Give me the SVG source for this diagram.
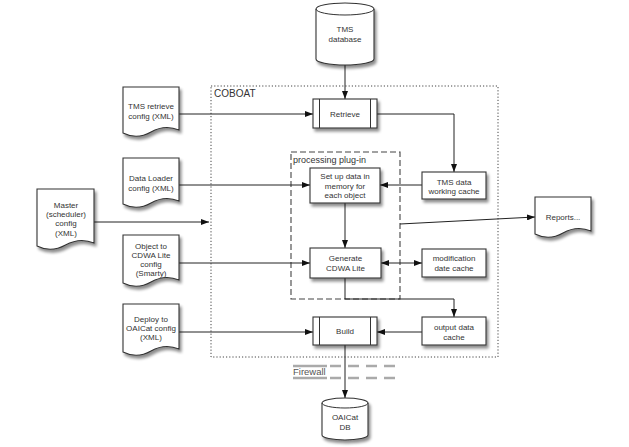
<svg xmlns="http://www.w3.org/2000/svg" width="629" height="447" viewBox="0 0 629 447">
<defs>
<filter id="sh" x="-20%" y="-20%" width="150%" height="150%">
<feGaussianBlur in="SourceAlpha" stdDeviation="1.5"/>
<feOffset dx="1.5" dy="2.5" result="b"/>
<feComponentTransfer><feFuncA type="linear" slope="0.45"/></feComponentTransfer>
<feMerge><feMergeNode/><feMergeNode in="SourceGraphic"/></feMerge>
</filter>
<marker id="ah" viewBox="0 0 8 6" refX="8" refY="3" markerWidth="8" markerHeight="6" markerUnits="userSpaceOnUse" orient="auto-start-reverse">
<path d="M0,0 L8,3 L0,6 z" fill="#111"/>
</marker>
</defs>
<style>
.bx{fill:#fff;stroke:#333;stroke-width:1.1;filter:url(#sh)}
.ln{fill:none;stroke:#333;stroke-width:1}
.t{font-family:"Liberation Sans",Arial,sans-serif;font-size:8px;fill:#333;text-anchor:middle}
.c{fill:none;stroke:#222;stroke-width:1;marker-end:url(#ah)}
.fw{stroke:#aaa;stroke-width:2.5;fill:none}
</style>
<rect width="629" height="447" fill="#fff"/>

<g id="coboat">
<rect x="211" y="86" width="287" height="271" fill="none" stroke="#444" stroke-width="1" stroke-dasharray="1.2 2"/>
<text x="214" y="97" style="font-family:'Liberation Sans',Arial,sans-serif;font-size:10px;fill:#333">COBOAT</text>
</g>
<g id="plugin">
<rect x="291" y="152" width="109" height="147" fill="none" stroke="#444" stroke-width="1.1" stroke-dasharray="6 3"/>
<text x="293" y="163" style="font-family:'Liberation Sans',Arial,sans-serif;font-size:9px;fill:#333">processing plug-in</text>
</g>

<g id="firewall">
<path class="fw" d="M293,366 H327 M330,366 H341 M348,366 H359 M366,366 H377 M384,366 H395 M293,378 H327 M330,378 H341 M348,378 H359 M366,378 H377 M384,378 H395"/>
<text x="293" y="375" style="font-family:'Liberation Sans',Arial,sans-serif;font-size:9.5px;fill:#555">Firewall</text>
</g>

<g id="connectors">
<path class="c" d="M345,65 V99"/>
<path class="c" d="M179,114 H313"/>
<path class="c" d="M377,114 H454 V172"/>
<path class="c" d="M422,185 H380"/>
<path class="c" d="M179,185 H310"/>
<path class="c" d="M94,222 H209"/>
<path class="c" d="M345,203 V248"/>
<path class="c" d="M179,263 H310"/>
<path class="c" d="M381,263 H422" style="marker-start:url(#ah)"/>
<path class="c" d="M345,278 V299 H454 V317"/>
<path class="c" d="M400,224 L535,217"/>
<path class="c" d="M422,332 H377"/>
<path class="c" d="M179,332 H313"/>
<path class="c" d="M345,345 V398"/>
</g>

<g id="tms-db">
<path class="bx" d="M316,9 A29,6 0 0 1 374,9 V59 A29,6 0 0 1 316,59 Z"/>
<path class="ln" d="M316,9 A29,6 0 0 0 374,9"/>
<text class="t" x="345" y="32">TMS</text>
<text class="t" x="345" y="42">database</text>
</g>

<g id="oaicat-db">
<path class="bx" d="M322,403 A23,5 0 0 1 368,403 V435 A23,5 0 0 1 322,435 Z"/>
<path class="ln" d="M322,403 A23,5 0 0 0 368,403"/>
<text class="t" x="345" y="420">OAICat</text>
<text class="t" x="345" y="430">DB</text>
</g>

<g id="retrieve">
<rect class="bx" x="313" y="99" width="64" height="29"/>
<path class="ln" d="M319.5,99 V128 M370.5,99 V128"/>
<text class="t" x="345" y="117">Retrieve</text>
</g>

<g id="build">
<rect class="bx" x="313" y="317" width="64" height="28"/>
<path class="ln" d="M319.5,317 V345 M370.5,317 V345"/>
<text class="t" x="345" y="334">Build</text>
</g>

<g id="setup">
<rect class="bx" x="310" y="168" width="70" height="35"/>
<text class="t" x="345" y="179">Set up data in</text>
<text class="t" x="345" y="188.5">memory for</text>
<text class="t" x="345" y="198">each object</text>
</g>

<g id="generate">
<rect class="bx" x="310" y="248" width="71" height="30"/>
<text class="t" x="345.5" y="261">Generate</text>
<text class="t" x="345.5" y="271">CDWA Lite</text>
</g>

<g id="tms-cache">
<rect class="bx" x="422" y="172" width="64" height="27"/>
<text class="t" x="454" y="185">TMS data</text>
<text class="t" x="454" y="194">working cache</text>
</g>

<g id="mod-cache">
<rect class="bx" x="422" y="249" width="64" height="28"/>
<text class="t" x="454" y="261">modification</text>
<text class="t" x="454" y="271">date cache</text>
</g>

<g id="out-cache">
<rect class="bx" x="422" y="317" width="64" height="28"/>
<text class="t" x="454" y="330">output data</text>
<text class="t" x="454" y="340">cache</text>
</g>

<g id="tms-retrieve-config">
<path class="bx" d="M123,87 H179 V130 Q165,124 151,132 T123,133 Z"/>
<text class="t" x="151" y="109">TMS retrieve</text>
<text class="t" x="151" y="119">config (XML)</text>
</g>

<g id="data-loader-config">
<path class="bx" d="M123,158 H179 V201 Q165,195 151,203 T123,204 Z"/>
<text class="t" x="151" y="181">Data Loader</text>
<text class="t" x="151" y="191">config (XML)</text>
</g>

<g id="master-config">
<path class="bx" d="M37,189 H94 V243 Q80,237 65.5,245 T37,246 Z"/>
<text class="t" x="66" y="208">Master</text>
<text class="t" x="66" y="217">(scheduler)</text>
<text class="t" x="66" y="226">config</text>
<text class="t" x="66" y="236">(XML)</text>
</g>

<g id="object-config">
<path class="bx" d="M123,235 H179 V280 Q165,274 151,282 T123,283 Z"/>
<text class="t" x="151" y="249">Object to</text>
<text class="t" x="151" y="258">CDWA Lite</text>
<text class="t" x="151" y="267">config</text>
<text class="t" x="151" y="276">(Smarty)</text>
</g>

<g id="deploy-config">
<path class="bx" d="M123,304 H179 V349 Q165,343 151,351 T123,352 Z"/>
<text class="t" x="151" y="322">Deploy to</text>
<text class="t" x="151" y="331">OAICat config</text>
<text class="t" x="151" y="340">(XML)</text>
</g>

<g id="reports">
<path class="bx" d="M535,197 H591 V231 Q577,225 563,233 T535,234 Z"/>
<text class="t" x="563" y="220">Reports...</text>
</g>
</svg>
